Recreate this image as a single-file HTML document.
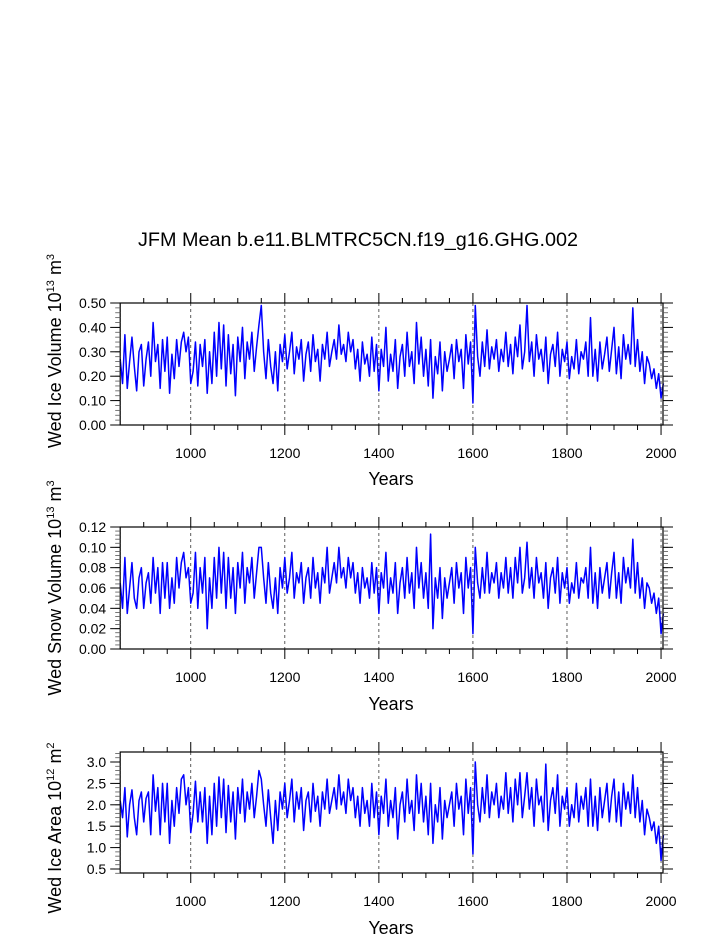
<!DOCTYPE html>
<html><head><meta charset="utf-8"><style>
html,body{margin:0;padding:0;background:#fff;}
svg{display:block;font-family:"Liberation Sans",Arial,sans-serif;}
</style></head><body>
<svg id="chart" width="723" height="935" viewBox="0 0 723 935" xmlns="http://www.w3.org/2000/svg">
<text x="138" y="246" font-size="19" textLength="440" lengthAdjust="spacingAndGlyphs">JFM Mean b.e11.BLMTRC5CN.f19_g16.GHG.002</text>
</svg>
<script>
const startYear = 850;
const stepYears = 5;
const xTicks = [1000, 1200, 1400, 1600, 1800, 2000];
const iceVolume = [.27,.17,.37,.15,.26,.36,.24,.14,.30,.33,.16,.27,.34,.20,.42,.26,.33,.15,.35,.22,
.36,.13,.29,.19,.35,.24,.34,.38,.30,.36,.17,.22,.34,.16,.33,.24,.35,.13,.30,.17,
.38,.20,.42,.23,.41,.16,.37,.21,.33,.12,.36,.26,.40,.19,.34,.27,.38,.22,.32,.41,
.49,.30,.19,.35,.24,.17,.30,.14,.33,.26,.37,.23,.30,.38,.21,.32,.27,.35,.18,.29,
.34,.22,.37,.26,.31,.18,.33,.27,.38,.24,.30,.35,.27,.41,.29,.33,.26,.38,.30,.35,
.23,.31,.18,.34,.25,.29,.20,.36,.22,.33,.14,.31,.24,.40,.18,.29,.22,.35,.15,.28,
.33,.20,.38,.24,.30,.17,.42,.25,.36,.20,.31,.16,.35,.11,.28,.21,.34,.14,.30,.22,
.27,.33,.19,.35,.26,.31,.15,.37,.25,.34,.09,.49,.28,.20,.34,.24,.39,.23,.32,.27,
.35,.22,.31,.26,.38,.24,.33,.21,.36,.28,.41,.23,.30,.49,.26,.34,.20,.37,.27,.31,
.22,.36,.17,.29,.33,.24,.38,.20,.31,.26,.34,.19,.28,.23,.35,.21,.30,.27,.34,.20,
.44,.20,.31,.18,.34,.23,.29,.36,.22,.31,.40,.21,.32,.19,.37,.27,.33,.25,.48,.24,
.35,.22,.30,.17,.28,.25,.19,.23,.15,.21,.11,.17];
const snowVolume = [.065,.04,.09,.035,.06,.085,.05,.04,.07,.08,.04,.065,.075,.045,.09,.055,.08,.035,.085,.05,
.085,.04,.07,.045,.09,.06,.085,.095,.07,.08,.045,.055,.095,.04,.08,.055,.09,.02,.07,.04,
.09,.05,.1,.055,.095,.04,.09,.05,.08,.035,.085,.06,.095,.045,.08,.065,.09,.05,.075,.1,
.1,.07,.045,.085,.055,.04,.07,.035,.08,.06,.09,.055,.07,.095,.05,.075,.065,.085,.045,.07,
.08,.05,.09,.06,.075,.045,.08,.065,.1,.055,.07,.085,.065,.1,.07,.08,.06,.09,.07,.085,
.055,.075,.045,.08,.06,.07,.05,.085,.055,.08,.035,.075,.06,.095,.045,.07,.055,.085,.035,.065,
.08,.05,.09,.055,.075,.04,.1,.06,.085,.05,.075,.04,.113,.02,.07,.05,.08,.03,.07,.05,
.065,.08,.045,.085,.06,.075,.035,.09,.06,.08,.015,.1,.065,.05,.08,.055,.095,.055,.075,.065,
.085,.05,.075,.06,.09,.055,.08,.05,.09,.065,.1,.055,.07,.105,.06,.08,.05,.09,.065,.075,
.05,.085,.04,.07,.08,.055,.09,.045,.075,.06,.08,.045,.065,.055,.085,.05,.07,.065,.08,.05,
.1,.045,.075,.04,.08,.055,.07,.085,.05,.075,.095,.05,.075,.045,.09,.065,.08,.06,.108,.055,
.085,.05,.07,.04,.065,.06,.045,.055,.035,.05,.015,.035];
const iceArea = [2.1,1.7,2.4,1.25,2.0,2.35,1.7,1.3,2.1,2.3,1.6,2.15,2.3,1.3,2.7,1.85,2.4,1.3,2.5,1.6,
2.5,1.1,2.1,1.5,2.4,1.8,2.6,2.7,2.0,2.4,1.35,1.8,2.55,1.6,2.3,1.6,2.4,1.1,2.2,1.3,
2.5,1.5,2.65,1.7,2.6,1.35,2.45,1.6,2.3,1.2,2.4,1.8,2.6,1.6,2.3,1.9,2.5,1.7,2.2,2.8,
2.6,2.0,1.5,2.35,1.7,1.1,2.1,1.4,2.3,1.9,2.5,1.7,2.1,2.6,1.6,2.3,1.9,2.4,1.4,2.1,
2.3,1.6,2.5,1.85,2.2,1.5,2.3,1.9,2.6,1.8,2.1,2.4,1.9,2.7,2.0,2.3,1.8,2.6,2.1,2.4,
1.7,2.2,1.5,2.4,1.8,2.1,1.5,2.5,1.7,2.3,1.3,2.2,1.8,2.6,1.5,2.1,1.7,2.4,1.2,2.0,
2.3,1.6,2.6,1.8,2.1,1.4,2.7,1.8,2.5,1.6,2.2,1.3,2.5,1.1,2.0,1.6,2.4,1.2,2.1,1.7,
2.0,2.3,1.5,2.5,1.9,2.2,1.3,2.6,1.8,2.4,0.85,3.0,2.0,1.6,2.4,1.8,2.7,1.7,2.3,2.0,
2.5,1.7,2.2,1.9,2.75,1.8,2.4,1.6,2.6,2.0,2.75,1.7,2.2,2.75,1.9,2.4,1.5,2.6,2.0,2.2,
1.6,2.95,1.4,2.1,2.4,1.8,2.7,1.5,2.2,1.9,2.4,1.5,2.0,1.7,2.5,1.6,2.2,1.9,2.4,1.5,
2.6,1.5,2.2,1.4,2.4,1.7,2.1,2.5,1.6,2.2,2.6,1.6,2.3,1.5,2.5,1.9,2.3,1.8,2.7,1.7,
2.4,1.6,2.1,1.3,1.9,1.7,1.4,1.6,1.1,1.5,0.7,1.3];
const ticks1 = ["0.00","0.10","0.20","0.30","0.40","0.50"];
const ticks2 = ["0.00","0.02","0.04","0.06","0.08","0.10","0.12"];
const ticks3 = ["0.5","1.0","1.5","2.0","2.5","3.0"];

const NS="http://www.w3.org/2000/svg";
const svg=document.getElementById('chart');
const X0=120.2, PX=0.4703, RIGHT=663;
function xs(yr){return X0+(yr-850)*PX;}
function mk(tag,attrs,parent){const e=document.createElementNS(NS,tag);for(const k in attrs)e.setAttribute(k,attrs[k]);(parent||svg).appendChild(e);return e;}

const panels=[
 {name:'ice-volume',data:iceVolume,ticks:ticks1,top:303,bot:425,vmin:0,vmax:0.5,minor:0.02,y0v:0,y0p:425,y1v:0.5,y1p:303,title:'Wed Ice Volume 10',exp1:'13',unit:' m',exp2:'3',titleY:351,yearsY:485},
 {name:'snow-volume',data:snowVolume,ticks:ticks2,top:527,bot:649,vmin:0,vmax:0.12,minor:0.004,y0v:0,y0p:649,y1v:0.12,y1p:527,title:'Wed Snow Volume 10',exp1:'13',unit:' m',exp2:'3',titleY:588,yearsY:710},
 {name:'ice-area',data:iceArea,ticks:ticks3,top:752,bot:873,vmin:0.4,vmax:3.23,minor:0.1,y0v:0.5,y0p:869,y1v:3.0,y1p:762,title:'Wed Ice Area 10',exp1:'12',unit:' m',exp2:'2',titleY:828,yearsY:934}
];

panels.forEach(p=>{
 const g=mk('g',{});
 
 
 const ys=v=>p.y0p+(v-p.y0v)*(p.y1p-p.y0p)/(p.y1v-p.y0v);
 xTicks.forEach(t=>{
  const l=mk('line',{x1:xs(t),x2:xs(t),y1:p.top,y2:p.bot,stroke:'#333','stroke-width':0.8,'stroke-dasharray':'3,3'},g);
  
  
 });
 let d='';
 p.data.forEach((v,i)=>{d+=(i?'L':'M')+xs(startYear+i*stepYears).toFixed(2)+','+ys(v).toFixed(2);});
 const path=mk('path',{d:d,fill:'none',stroke:'#0000ff','stroke-width':1.5,'stroke-linejoin':'round'},g);
 
 
 const fr=mk('rect',{x:X0,y:p.top,width:RIGHT-X0,height:p.bot-p.top,fill:'none',stroke:'#000','stroke-width':1.2},g);
 
 
 for(let yr=900;yr<=2000;yr+=50){
  const major=yr%200===0, len=major?10:5, x=xs(yr);
  mk('line',{x1:x,x2:x,y1:p.bot,y2:p.bot+len,stroke:'#000','stroke-width':1},g);
  mk('line',{x1:x,x2:x,y1:p.top,y2:p.top-len,stroke:'#000','stroke-width':1},g);
 }
 xTicks.forEach(t=>{
  const tx=mk('text',{x:xs(t),y:p.bot+33,'font-size':14,'text-anchor':'middle'},g);
  tx.textContent=t;
  
  
 });
 for(let v=p.vmin;v<=p.vmax+1e-9;v+=p.minor){
  const y=ys(v); if(y<p.top-0.5||y>p.bot+0.5) continue;
  mk('line',{x1:X0,x2:X0-5,y1:y,y2:y,stroke:'#555','stroke-width':0.8},g);
  mk('line',{x1:RIGHT,x2:RIGHT+5,y1:y,y2:y,stroke:'#555','stroke-width':0.8},g);
 }
 p.ticks.forEach(lbl=>{
  const y=ys(parseFloat(lbl));
  mk('line',{x1:X0,x2:X0-10,y1:y,y2:y,stroke:'#000','stroke-width':1},g);
  mk('line',{x1:RIGHT,x2:RIGHT+10,y1:y,y2:y,stroke:'#000','stroke-width':1},g);
  const tx=mk('text',{x:X0-14,y:y+5,'font-size':14,'text-anchor':'end'},g);
  tx.textContent=lbl;
  
  
 });
 const xt=mk('text',{x:391,y:p.yearsY,'font-size':18,'text-anchor':'middle'},g);
 xt.textContent='Years';
 
 
 const yt=mk('text',{x:0,y:0,'font-size':18,'text-anchor':'middle',transform:'translate(61,'+p.titleY+') rotate(-90)'},g);
 
 
 const s1=mk('tspan',{},yt); s1.textContent=p.title;
 const s2=mk('tspan',{dy:-7,'font-size':11},yt); s2.textContent=p.exp1;
 const s3=mk('tspan',{dy:7},yt); s3.textContent=p.unit;
 const s4=mk('tspan',{dy:-7,'font-size':11},yt); s4.textContent=p.exp2;
});
</script>
</body></html>
